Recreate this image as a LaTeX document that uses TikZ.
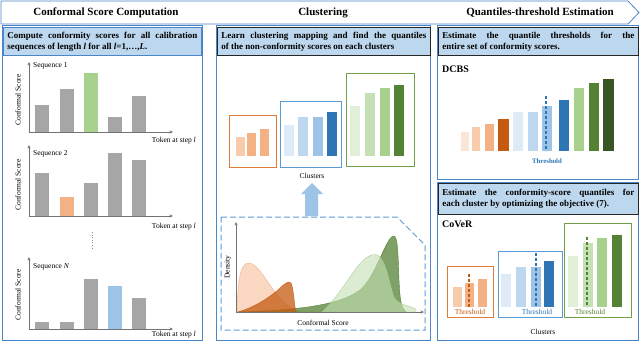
\documentclass[tikz,border=0pt]{standalone}
\usepackage{fontspec}
\setmainfont{Liberation Serif}
\usetikzlibrary{arrows.meta,positioning}
\definecolor{panelblue}{HTML}{4A86C8}
\definecolor{headfill}{HTML}{BDD7EE}
\definecolor{headdark}{HTML}{262626}
\definecolor{barg}{HTML}{A6A6A6}
\definecolor{bgreen}{HTML}{A9D18E}
\definecolor{borange}{HTML}{F4B183}
\definecolor{bblue}{HTML}{9DC3E6}
\definecolor{or0}{HTML}{FBE5D6}
\definecolor{or1}{HTML}{F8CBAD}
\definecolor{or2}{HTML}{F4B183}
\definecolor{or3}{HTML}{C55A11}
\definecolor{bl1}{HTML}{DEEBF7}
\definecolor{bl2}{HTML}{BDD7EE}
\definecolor{bl3}{HTML}{9DC3E6}
\definecolor{bl4}{HTML}{2E75B6}
\definecolor{gr1}{HTML}{E2F0D9}
\definecolor{gr2}{HTML}{C5E0B4}
\definecolor{gr3}{HTML}{A9D18E}
\definecolor{gr4}{HTML}{548235}
\definecolor{gr5}{HTML}{375623}
\definecolor{lineor}{HTML}{E07B39}
\definecolor{linebl}{HTML}{5B9BD5}
\definecolor{linegr}{HTML}{70A04A}
\tikzset{
  panel/.style={draw=panelblue, line width=1pt},
  headbox/.style={anchor=north west, fill=headfill, line width=0.9pt, text width=#1, align=justify, font=\fontsize{9}{11}\selectfont\bfseries, inner sep=4pt, minimum height=28pt},
  titletext/.style={font=\fontsize{11}{13}\selectfont\bfseries},
  lbl/.style={font=\fontsize{7.5}{9}\selectfont, inner sep=1pt},
  method/.style={anchor=west, font=\fontsize{10}{12}\selectfont\bfseries, inner sep=0pt},
  axis/.style={-{Stealth[length=3.5pt,width=3pt]}, draw=black!55, line width=0.6pt},
  cbox/.style={line width=0.9pt},
  thr/.style={dash pattern=on 3pt off 2pt, line width=1.1pt},
  thrlbl/.style={font=\fontsize{7.5}{9}\selectfont, inner sep=0pt},
  dashbox/.style={draw=linebl, line width=1pt, dash pattern=on 6pt off 3pt},
  dens/.style={fill opacity=0.75, line width=0.4pt}
}
\begin{document}
\begin{tikzpicture}[x=1pt,y=-1pt]
  \useasboundingbox (0,0) rectangle (640,342);
  \draw[draw=panelblue, line width=0.8pt, fill=white] (1,1) -- (628,1) -- (639,12.5) -- (628,24) -- (1,24) -- cycle;
  \node[titletext] (t1) at (106,13) {Conformal Score Computation};
  \node[titletext] (t2) at (323,13) {Clustering};
  \node[titletext] (t3) at (540,13) {Quantiles-threshold Estimation};

  \draw[panel] (2,26) rectangle (202,340);
  \draw[panel] (216,26) rectangle (430,340);
  \draw[panel] (437,26) rectangle (638,179);
  \draw[panel] (437,182) rectangle (638,340);

  \node[headbox=190pt, draw=panelblue] (h1) at (3,27) {Compute conformity scores for all calibration\linebreak sequences of length \textit{l} for all \textit{l}=1,\ldots,\textit{L}.};
  \node[headbox=205pt, draw=headdark] (h2) at (217,27) {Learn clustering mapping and find the quantiles\linebreak of the non-conformity scores on each clusters};
  \node[headbox=192pt, draw=headdark] (h3) at (438,27) {Estimate the quantile thresholds for the\linebreak entire set of conformity scores.};
  \node[headbox=192pt, draw=headdark, minimum height=31pt] (h4) at (438,183) {Estimate the conformity-score quantiles for\linebreak each cluster by optimizing the objective (7).};

  \draw[axis] (29,132) -- (29,62);
  \draw[axis] (29,132) -- (173,132);
  \foreach \x/\t/\c in {35/105/barg,60/89/barg,84/73/bgreen,108/117/barg,132/96/barg}
    \fill[\c] (\x,\t) rectangle (\x+14,132);
  \node[lbl, anchor=west] (s1) at (32,66) {Sequence 1};
  \node[lbl, anchor=east] (k1) at (197,141) {Token at step \textit{l}};
  \node[lbl, rotate=90] (c1) at (18,100) {Conformal Score};

  \draw[axis] (29,216) -- (29,145);
  \draw[axis] (29,216) -- (173,216);
  \foreach \x/\t/\c in {35/173/barg,60/197/borange,84/183/barg,108/153/barg,132/160/barg}
    \fill[\c] (\x,\t) rectangle (\x+14,216);
  \node[lbl, anchor=west] (s2) at (32,154) {Sequence 2};
  \node[lbl, anchor=east] (k2) at (197,227) {Token at step \textit{l}};
  \node[lbl, rotate=90] (c2) at (18,185) {Conformal Score};

  \draw[black!45, line width=0.6pt, dotted] (92,232) -- (92,249);

  \draw[axis] (29,329) -- (29,257);
  \draw[axis] (29,329) -- (173,329);
  \foreach \x/\t/\c in {35/322/barg,60/322/barg,84/279/barg,108/286/bblue,132/298/barg}
    \fill[\c] (\x,\t) rectangle (\x+14,329);
  \node[lbl, anchor=west] (s3) at (32,267) {Sequence \textit{N}};
  \node[lbl, anchor=east] (k3) at (197,335) {Token at step \textit{l}};
  \node[lbl, rotate=90] (c3) at (18,295) {Conformal Score};

  \draw[cbox, draw=lineor] (229,115) rectangle (276,167);
  \foreach \x/\t/\c in {236/137/or1,247/133/or2,260/129/or2}
    \fill[\c] (\x,\t) rectangle (\x+9,156);
  \draw[cbox, draw=linebl] (280,101) rectangle (341,167);
  \foreach \x/\t/\c in {284/125/bl1,298/117/bl2,313/117/bl3,327/112/bl4}
    \fill[\c] (\x,\t) rectangle (\x+10,156);
  \draw[cbox, draw=linegr] (346,73) rectangle (414,166);
  \foreach \x/\t/\c in {350/106/gr1,365/93/gr2,380/88/gr3,394/85/gr4}
    \fill[\c] (\x,\t) rectangle (\x+10,156);
  \node[lbl] (cl1) at (312,176) {Clusters};

  \fill[bl3] (305,216) -- (305,194) -- (301,194) -- (312,183) -- (323,194) -- (318,194) -- (318,216) -- cycle;
  \draw[dashbox] (221,217) -- (397,217) -- (425,245) -- (425,330) -- (221,330) -- cycle;

  \draw[dens, fill=or1, draw=or2] (237,312) .. controls (238,272) and (242,263) .. (249,263) .. controls (258,263) and (268,285) .. (280,298) .. controls (288,306) and (293,310) .. (300,312) -- cycle;
  \draw[dens, fill=gr4, draw=gr4] (240,312) .. controls (300,310) and (340,305) .. (360,290) .. controls (375,278) and (385,240) .. (393,236) .. controls (398,234) and (398,255) .. (399,280) .. controls (400,300) and (401,308) .. (406,312) -- cycle;
  \draw[dens, fill=or3, draw=or3] (238,312) .. controls (252,308) and (266,300) .. (278,290) .. controls (284,284) and (289,280) .. (291,283) .. controls (294,290) and (294,305) .. (296,312) -- cycle;
  \draw[dens, fill=gr2, draw=gr3, fill opacity=0.6] (322,312) .. controls (335,300) and (345,284) .. (355,270) .. controls (362,260) and (370,253) .. (377,255) .. controls (385,258) and (389,280) .. (393,295) .. controls (397,305) and (405,304) .. (416,309) -- (416,312) -- cycle;
  \draw[axis] (236,312) -- (236,222);
  \draw[axis] (236,312) -- (424,312);
  \node[lbl, rotate=90] (dy) at (228,267) {Density};
  \node[lbl] (dx) at (323,323) {Conformal Score};

  \node[method] (m1) at (442,69) {DCBS};
  \foreach \x/\t/\w/\c in {461/132/8/or0,472/127/8/or1,485/124/9/or2,498/119/11/or3,513/112/10/bl1,528/112/10/bl2,542/106/10/bl3,559/100/10/bl4,574/88/10/gr3,589/83/10/gr4,603/79/11/gr5}
    \fill[\c] (\x,\t) rectangle (\x+\w,151);
  \draw[thr, draw=bl4] (546,96) -- (546,151);
  \node[thrlbl, text=bl4, font=\fontsize{6.8}{8}\selectfont\bfseries] (th0) at (547,161) {Threshold};

  \node[method] (m2) at (442,224) {CoVeR};
  \draw[cbox, draw=lineor] (447,266) rectangle (493,317);
  \foreach \x/\t/\c in {453/287/or1,465/283/or2,478/279/or2}
    \fill[\c] (\x,\t) rectangle (\x+9,307);
  \draw[thr, draw=or3] (469,274) -- (469,307);
  \node[thrlbl, text=or3] (th1) at (470,312) {Threshold};
  \draw[cbox, draw=linebl] (498,251) rectangle (562,317);
  \foreach \x/\t/\c in {501/274/bl1,516/267/bl2,531/267/bl3,544/261/bl4}
    \fill[\c] (\x,\t) rectangle (\x+10,307);
  \draw[thr, draw=bl4] (536,253) -- (536,307);
  \node[thrlbl, text=bl4] (th2) at (537,312) {Threshold};
  \draw[cbox, draw=linegr] (564,223) rectangle (631,317);
  \foreach \x/\t/\c in {568/256/gr1,583/243/gr2,597/238/gr3,612/235/gr4}
    \fill[\c] (\x,\t) rectangle (\x+10,307);
  \draw[thr, draw=gr4] (587,237) -- (587,307);
  \node[thrlbl, text=gr4] (th3) at (590,312) {Threshold};
  \node[lbl] (cl2) at (543,332) {Clusters};
\end{tikzpicture}
\end{document}
